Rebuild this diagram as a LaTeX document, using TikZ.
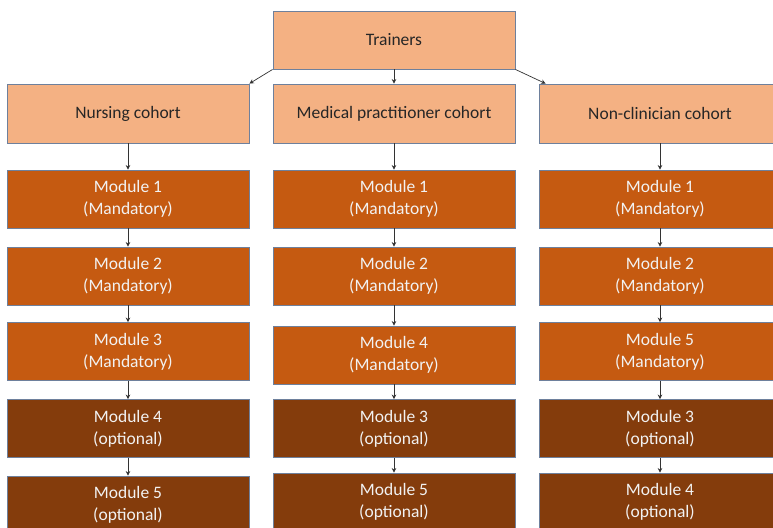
\documentclass[tikz,border=0pt]{standalone}
\usepackage{fontspec}
\setmainfont{Carlito}
\usepackage{xcolor}
\usetikzlibrary{arrows.meta}

\definecolor{peach}{RGB}{244,177,131}
\definecolor{mandcol}{RGB}{197,90,17}
\definecolor{optcol}{RGB}{132,60,12}
\definecolor{edgecol}{RGB}{110,128,156}

\begin{document}
\begin{tikzpicture}[x=1pt,y=-1pt,
  box/.style={rectangle,draw=edgecol,line width=0.9pt,minimum width=242pt,
    minimum height=58pt,align=center,inner sep=0pt,
    font=\fontsize{17.5}{22}\selectfont},
  cohort/.style={box,fill=peach,text=black!85},
  mand/.style={box,fill=mandcol,text=white!95!black},
  opt/.style={box,fill=optcol,text=white!95!black},
  link/.style={draw=black!80,line width=0.7pt,-{Stealth[length=4.5pt,width=4.5pt]}}]
  \clip (0,0) rectangle (773,527);
  \fill[white] (0,0) rectangle (773,527);

  \node[cohort] (trainers) at (394,40) {Trainers};
  \node[cohort,minimum height=59pt] (nurse) at (128,113.5) {Nursing cohort};
  \node[cohort,minimum height=59pt] (medic) at (394,113.5) {Medical practitioner cohort};
  \node[cohort,minimum height=59pt] (noncl) at (660,113.5) {Non-clinician cohort};

  % nursing column
  \node[mand] (n1) at (128,199) {Module 1\\(Mandatory)};
  \node[mand] (n2) at (128,276) {Module 2\\(Mandatory)};
  \node[mand] (n3) at (128,351.5) {Module 3\\(Mandatory)};
  \node[opt] (n4) at (128,428.5) {Module 4\\(optional)};
  \node[opt] (n5) at (128,505) {Module 5\\(optional)};

  % medical column
  \node[mand] (m1) at (394,199) {Module 1\\(Mandatory)};
  \node[mand] (m2) at (394,276) {Module 2\\(Mandatory)};
  \node[mand] (m4) at (394,355) {Module 4\\(Mandatory)};
  \node[opt] (m3) at (394,428.5) {Module 3\\(optional)};
  \node[opt] (m5) at (394,502) {Module 5\\(optional)};

  % non-clinician column
  \node[mand] (c1) at (660,199) {Module 1\\(Mandatory)};
  \node[mand] (c2) at (660,276) {Module 2\\(Mandatory)};
  \node[mand] (c5) at (660,351.5) {Module 5\\(Mandatory)};
  \node[opt] (c3) at (660,428.5) {Module 3\\(optional)};
  \node[opt] (c4) at (660,502) {Module 4\\(optional)};

  \draw[link] (trainers.south west) -- (nurse.north east);
  \draw[link] (trainers) -- (medic);
  \draw[link] (trainers.south east) -- ([xshift=7pt]noncl.north west);

  \draw[link] (nurse) -- (n1);
  \draw[link] (n1) -- (n2);
  \draw[link] (n2) -- (n3);
  \draw[link] (n3) -- (n4);
  \draw[link] (n4) -- (n5);

  \draw[link] (medic) -- (m1);
  \draw[link] (m1) -- (m2);
  \draw[link] (m2) -- (m4);
  \draw[link] (m4) -- (m3);
  \draw[link] (m3) -- (m5);

  \draw[link] (noncl) -- (c1);
  \draw[link] (c1) -- (c2);
  \draw[link] (c2) -- (c5);
  \draw[link] (c5) -- (c3);
  \draw[link] (c3) -- (c4);
\end{tikzpicture}
\end{document}
